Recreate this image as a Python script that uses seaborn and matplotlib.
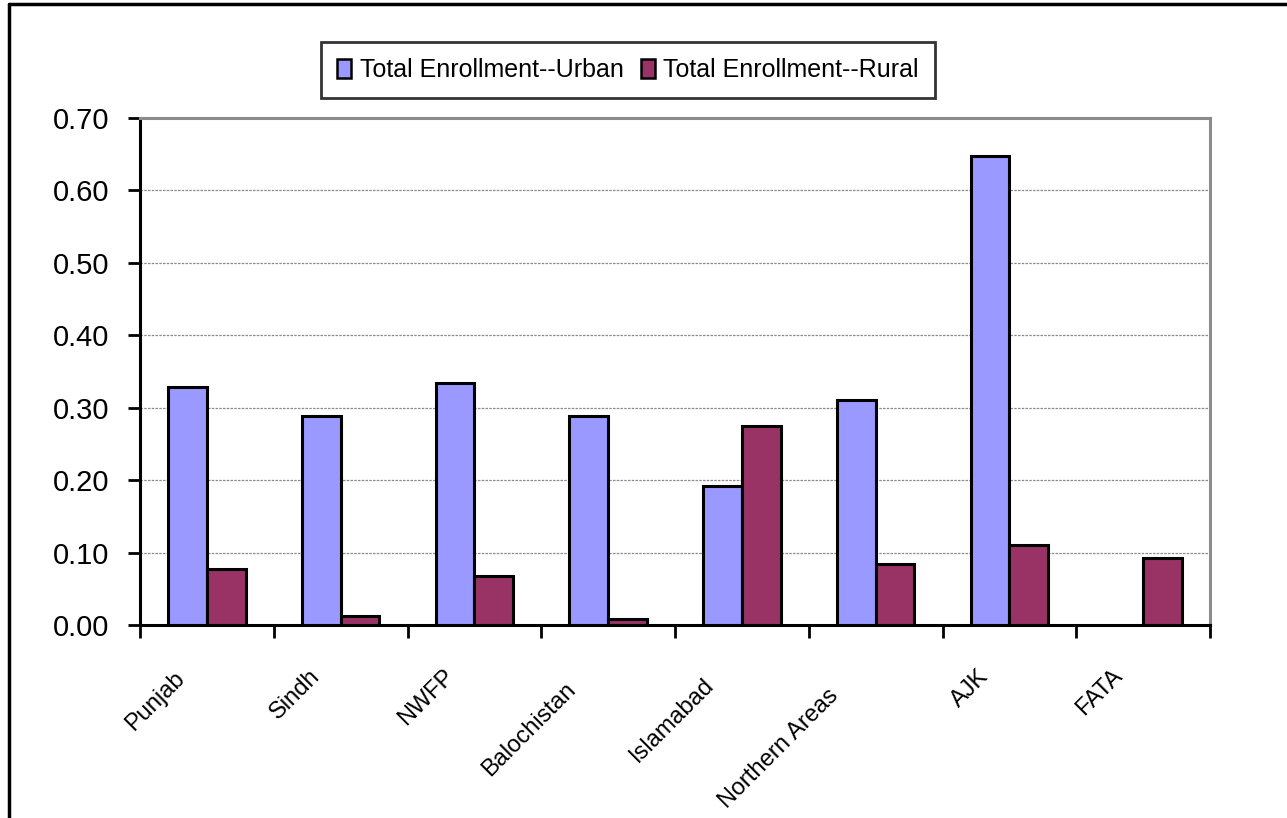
import numpy as np
import pandas as pd
import matplotlib
matplotlib.use("Agg")
import matplotlib.pyplot as plt
import matplotlib.transforms as mtransforms
from matplotlib.lines import Line2D
import seaborn as sns

# Enrollment ratios by region
regions = ["Punjab", "Sindh", "NWFP", "Balochistan", "Islamabad",
           "Northern Areas", "AJK", "FATA"]
urban = [0.329, 0.288, 0.334, 0.288, 0.192, 0.311, 0.647, np.nan]
rural = [0.077, 0.012, 0.067, 0.008, 0.275, 0.084, 0.111, 0.093]
series_names = ["Total Enrollment--Urban", "Total Enrollment--Rural"]
y_ticks = [0.00, 0.10, 0.20, 0.30, 0.40, 0.50, 0.60, 0.70]

rows = []
for name, values in zip(series_names, [urban, rural]):
    for reg, v in zip(regions, values):
        if not np.isnan(v):
            rows.append({"Region": reg, "Series": name, "Value": v})
df = pd.DataFrame(rows)

sns.set_style("white")
plt.rcParams["font.family"] = ["Liberation Sans", "DejaVu Sans"]
plt.rcParams["text.color"] = "black"
plt.rcParams["xtick.color"] = "black"
plt.rcParams["ytick.color"] = "black"

fig = plt.figure(figsize=(12.87, 8.18), dpi=100)
ax = fig.add_axes([140 / 1287, 1 - 625 / 818, 1070 / 1287, 507 / 818])

palette = {series_names[0]: "#9999FF", series_names[1]: "#993366"}
sns.barplot(data=df, x="Region", y="Value", hue="Series",
            order=regions, hue_order=series_names, palette=palette,
            width=0.58, errorbar=None, edgecolor="black", linewidth=2.2,
            saturation=1, ax=ax, zorder=3)

ax.set_xlim(-0.5, len(regions) - 0.5)
ax.set_ylim(0, 0.70)
ax.set_yticks(y_ticks)
ax.set_yticklabels([f"{t:.2f}" for t in y_ticks], fontsize=21)
ax.set_xlabel("")
ax.set_ylabel("")

# category labels at centres, tick marks at category boundaries
ax.set_xticks(range(len(regions)))
ax.set_xticklabels(regions, rotation=45, ha="right", va="center",
                   rotation_mode="anchor", fontsize=17)
ax.tick_params(axis="x", which="major", length=0, pad=0)
# longer labels sit a little further down the diagonal
for lbl in ax.get_xticklabels():
    extra = max(0, len(lbl.get_text()) - 5)
    dx = -24 - 1.9 * extra
    dy = 48 + 2.2 * extra
    shift = mtransforms.ScaledTranslation(dx / 100, -dy / 100,
                                          fig.dpi_scale_trans)
    lbl.set_transform(lbl.get_transform() + shift)
ax.set_xticks(np.arange(-0.5, len(regions), 1.0), minor=True)
ax.tick_params(axis="x", which="minor", direction="out", length=9,
               width=2, color="black", bottom=True)
ax.tick_params(axis="y", direction="out", length=9, width=2,
               color="black", left=True, pad=13)

ax.yaxis.grid(True, color="#8c8c8c", linestyle=(0, (2, 1)), linewidth=0.9)
ax.set_axisbelow(True)

for side in ["left", "bottom"]:
    ax.spines[side].set_color("black")
    ax.spines[side].set_linewidth(2.2)
for side in ["top", "right"]:
    ax.spines[side].set_color("#8c8c8c")
    ax.spines[side].set_linewidth(2.2)

leg = ax.legend(loc="center", bbox_to_anchor=(628 / 1287, 1 - 70 / 818),
                bbox_transform=fig.transFigure, ncol=2, fontsize=18,
                frameon=True, fancybox=False, handlelength=0.55,
                handleheight=0.8, handletextpad=0.35, columnspacing=0.7,
                borderpad=0.65, borderaxespad=0, edgecolor="black")
leg.get_frame().set_linewidth(2)
for h in leg.legend_handles:
    h.set_edgecolor("black")
    h.set_linewidth(1.8)

# outer chart frame (left and top edges)
fig.add_artist(Line2D([9 / 1287, 9 / 1287], [0, 1 - 4 / 818],
                      transform=fig.transFigure, color="black", linewidth=2.5))
fig.add_artist(Line2D([9 / 1287, 1], [1 - 4 / 818, 1 - 4 / 818],
                      transform=fig.transFigure, color="black", linewidth=2.5))

fig.savefig("out.png", dpi=100)
